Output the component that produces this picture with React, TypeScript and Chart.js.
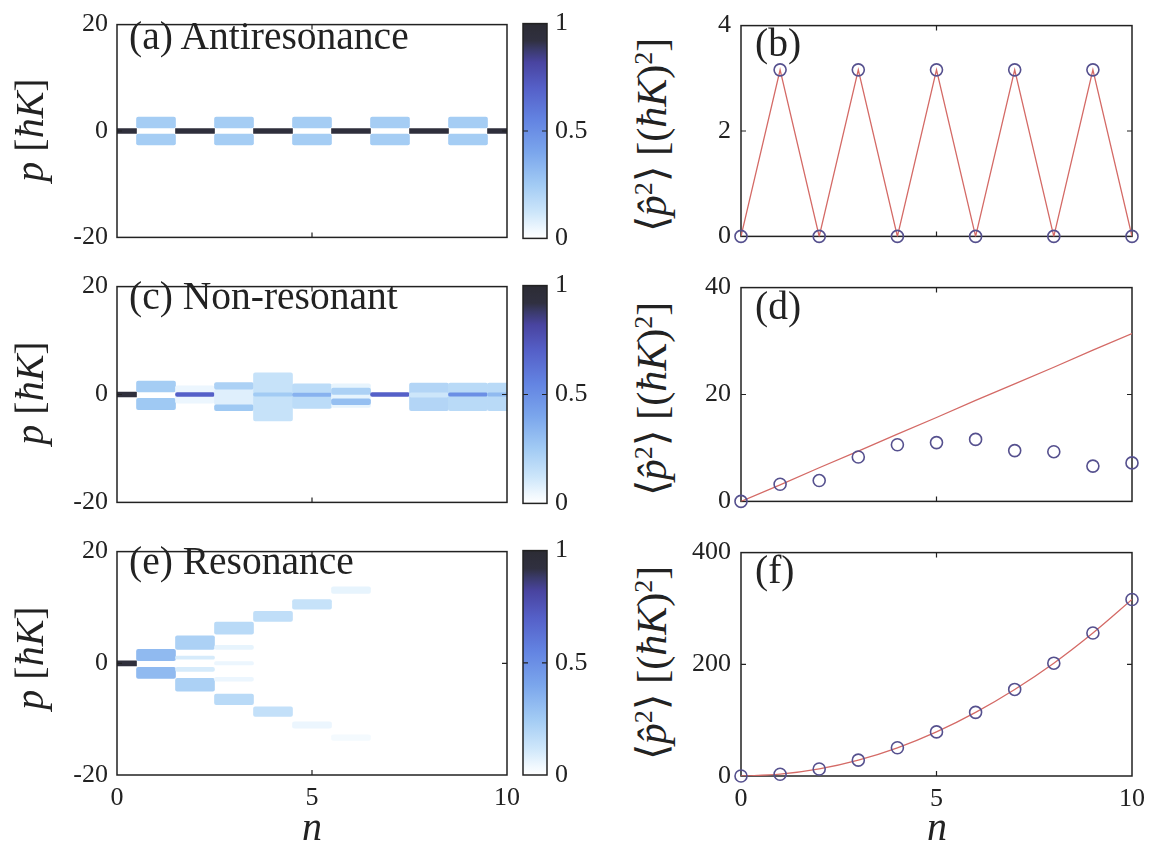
import React, { useEffect, useRef } from 'react';
import { Chart, registerables } from 'chart.js';
Chart.register(...registerables);

const FONT = "'Liberation Serif', 'Times New Roman', serif";
const INK = '#222222';
const RED = '#d46a66';
const MARKER = '#55508e';

// ---------------- data ----------------
const steps = [0, 1, 2, 3, 4, 5, 6, 7, 8, 9, 10];
const nTicks = [0, 5, 10];
const pRange = [-20, 20];
const colorbarRange = [0, 1];

// heat-map cells: [n, pLow, pHigh, probability]
type Cell = [number, number, number, number];
const cellsAntiresonance: Cell[] = [
  [0, -0.45, 0.45, 0.95],
  [1, 0.6, 2.6, 0.24], [1, -2.6, -0.6, 0.24],
  [2, -0.45, 0.45, 0.95],
  [3, 0.6, 2.6, 0.24], [3, -2.6, -0.6, 0.24],
  [4, -0.45, 0.45, 0.95],
  [5, 0.6, 2.6, 0.24], [5, -2.6, -0.6, 0.24],
  [6, -0.45, 0.45, 0.95],
  [7, 0.6, 2.6, 0.24], [7, -2.6, -0.6, 0.24],
  [8, -0.45, 0.45, 0.95],
  [9, 0.6, 2.6, 0.24], [9, -2.6, -0.6, 0.24],
  [10, -0.45, 0.45, 0.95],
];
const cellsNonResonant: Cell[] = [
  [0, -0.45, 0.45, 0.95],
  [1, 0.5, 2.5, 0.24], [1, -2.8, -0.7, 0.26],
  [2, -1.6, 1.6, 0.05], [2, -0.35, 0.35, 0.7],
  [3, -2.0, 1.0, 0.08], [3, 1.0, 2.2, 0.22], [3, -3.0, -1.9, 0.26],
  [4, -4.9, 4.0, 0.14], [4, -0.3, 0.3, 0.25],
  [5, -2.6, 2.0, 0.17], [5, -0.35, 0.25, 0.35],
  [6, -2.4, 2.0, 0.06], [6, 0.0, 1.2, 0.22], [6, -1.9, -0.8, 0.3],
  [7, -0.35, 0.35, 0.7],
  [8, -3.0, 2.1, 0.2], [8, -0.5, 0.3, 0.12],
  [9, -3.0, 2.1, 0.18], [9, -0.3, 0.3, 0.5],
  [10, -3.0, 2.1, 0.18], [10, -0.3, 0.3, 0.32],
];
const cellsResonance: Cell[] = [
  [0, -0.45, 0.45, 0.95],
  [1, 0.45, 2.5, 0.32], [1, -2.7, -0.7, 0.32],
  [2, 2.5, 4.9, 0.22], [2, 0.75, 1.3, 0.1], [2, -1.45, -0.7, 0.1], [2, -5.0, -2.7, 0.22],
  [3, 5.2, 7.4, 0.18], [3, 2.5, 3.2, 0.06], [3, -0.3, 0.3, 0.05], [3, -3.2, -2.5, 0.05], [3, -7.4, -5.5, 0.18],
  [4, 7.5, 9.3, 0.16], [4, -9.5, -7.8, 0.15],
  [5, 9.7, 11.4, 0.14], [5, -11.6, -10.5, 0.05],
  [6, 12.5, 13.7, 0.06], [6, -13.8, -12.8, 0.03],
];

// <p^2> series
const antiPoints = [0, 3.16, 0, 3.16, 0, 3.16, 0, 3.16, 0, 3.16, 0];
const antiLine = [0, 3.16, 0, 3.16, 0, 3.16, 0, 3.16, 0, 3.16, 0];
const nonResPoints = [0, 3.2, 3.9, 8.3, 10.6, 11.0, 11.6, 9.5, 9.3, 6.6, 7.2];
const nonResLine = [0, 3.1, 6.3, 9.4, 12.6, 15.7, 18.9, 22.0, 25.1, 28.3, 31.4];
const resPoints = [0, 3.2, 12.6, 28.4, 50.5, 79, 114, 155, 202, 256, 316];
const resLine = [0, 3.2, 12.6, 28.4, 50.5, 79, 114, 155, 202, 256, 316];
const antiTicks = [0, 2, 4];
const nonResTicks = [0, 20, 40];
const resTicks = [0, 200, 400];

// ---------------- colour map ----------------
const CMAP: [number, string][] = [
  [0, '#ffffff'],
  [0.04, '#f0f8fe'],
  [0.12, '#cde6fa'],
  [0.25, '#a2cbf4'],
  [0.4, '#7ba6ec'],
  [0.55, '#6384e2'],
  [0.7, '#5560c8'],
  [0.82, '#4944a0'],
  [0.88, '#3a3a6a'],
  [0.92, '#303040'],
  [1, '#2c2c34'],
];
function hexRgb(h: string) {
  const v = parseInt(h.slice(1), 16);
  return [(v >> 16) & 255, (v >> 8) & 255, v & 255];
}
function cmap(t: number) {
  const v = Math.max(0, Math.min(1, t));
  for (let i = 1; i < CMAP.length; i++) {
    if (v <= CMAP[i][0]) {
      const [t0, c0] = CMAP[i - 1];
      const [t1, c1] = CMAP[i];
      const f = (v - t0) / (t1 - t0);
      const a = hexRgb(c0), b = hexRgb(c1);
      return `rgb(${a.map((x, k) => Math.round(x + (b[k] - x) * f)).join(',')})`;
    }
  }
  return CMAP[CMAP.length - 1][1];
}

// ---------------- frame plugin ----------------
const framePlugin = {
  id: 'frame',
  beforeDatasetsDraw(chart: any, _a: any, opts: any) {
    if (opts.under) drawFrame(chart, opts);
  },
  afterDatasetsDraw(chart: any, _a: any, opts: any) {
    if (!opts.under) drawFrame(chart, opts);
  },
};
function drawFrame(chart: any, opts: any) {
  const { ctx, chartArea: a, scales } = chart;
  ctx.save();
  ctx.strokeStyle = INK;
  ctx.lineWidth = 1.5;
  ctx.strokeRect(a.left, a.top, a.right - a.left, a.bottom - a.top);
  const len = 5;
  ctx.lineWidth = 1.2;
  ctx.beginPath();
  (opts.xTicks || []).forEach((v: number) => {
    const x = scales.x.getPixelForValue(v);
    ctx.moveTo(x, a.bottom); ctx.lineTo(x, a.bottom - len);
    ctx.moveTo(x, a.top); ctx.lineTo(x, a.top + len);
  });
  (opts.yTicks || []).forEach((v: number) => {
    const y = scales.y.getPixelForValue(v);
    ctx.moveTo(a.left, y); ctx.lineTo(a.left + len, y);
    ctx.moveTo(a.right, y); ctx.lineTo(a.right - len, y);
  });
  ctx.stroke();
  ctx.restore();
}

const tickFont = { family: FONT, size: 26 };

function heatConfig(cells: Cell[], showX: boolean, padTop: number, padBottom: number, xHeight: number) {
  return {
    type: 'bar',
    data: {
      datasets: [{
        data: cells.map(c => ({ x: c[0], y: [c[1], c[2]] })),
        backgroundColor: cells.map(c => cmap(c[3])),
        borderWidth: 0,
        borderRadius: cells.map(c => (c[3] > 0.9 ? 0 : 2)),
        borderSkipped: false,
        categoryPercentage: 1,
        barPercentage: 1,
        grouped: false,
      }],
    },
    options: {
      animation: false,
      responsive: true,
      maintainAspectRatio: false,
      layout: { padding: { left: 0, right: 23, top: padTop, bottom: padBottom } },
      plugins: { legend: { display: false }, tooltip: { enabled: false }, frame: { xTicks: [5], yTicks: [0] } },
      scales: {
        x: {
          type: 'linear', min: steps[0], max: steps[steps.length - 1], offset: false,
          afterBuildTicks: (s: any) => { s.ticks = nTicks.map(v => ({ value: v })); },
          ticks: { display: showX, font: tickFont, color: INK, padding: 8, maxRotation: 0, autoSkip: false },
          grid: { display: false, drawTicks: false, offset: false }, border: { display: false },
          afterFit: (s: any) => { s.height = xHeight; },
        },
        y: {
          type: 'linear', min: pRange[0], max: pRange[1],
          ticks: { stepSize: 20, font: tickFont, color: INK, padding: 9 },
          grid: { display: false, drawTicks: false }, border: { display: false },
          afterFit: (s: any) => { s.width = 117; },
        },
      },
    },
    plugins: [framePlugin],
  };
}

function colorbarConfig(padTop: number, padBottom: number) {
  return {
    type: 'bar',
    data: {
      labels: [''],
      datasets: [{
        data: [colorbarRange],
        backgroundColor: (c: any) => {
          const chart = c.chart;
          if (!chart.chartArea) return 'transparent';
          const y = chart.scales.y;
          const g = chart.ctx.createLinearGradient(0, y.getPixelForValue(0), 0, y.getPixelForValue(1));
          CMAP.forEach(([t, col]) => g.addColorStop(t, col));
          return g;
        },
        borderWidth: 0,
        categoryPercentage: 1,
        barPercentage: 1,
      }],
    },
    options: {
      animation: false,
      responsive: true,
      maintainAspectRatio: false,
      layout: { padding: { left: 8, right: 0, top: padTop, bottom: padBottom } },
      plugins: { legend: { display: false }, tooltip: { enabled: false }, frame: { xTicks: [], yTicks: [0.5] } },
      scales: {
        x: { display: false },
        y: {
          position: 'right', min: colorbarRange[0], max: colorbarRange[1],
          ticks: { stepSize: 0.5, font: tickFont, color: INK, padding: 8, callback: (v: number) => String(v) },
          grid: { display: false, drawTicks: false }, border: { display: false },
          afterFit: (s: any) => { s.width = 58; },
        },
      },
    },
    plugins: [framePlugin],
  };
}

function lineConfig(points: number[], line: number[], yTicks: number[], smooth: boolean, showX: boolean, padTop: number, padBottom: number, xHeight: number) {
  return {
    type: 'line',
    data: {
      datasets: [
        {
          data: steps.map((n, i) => ({ x: n, y: points[i] })),
          showLine: false,
          pointStyle: 'circle',
          pointRadius: 6,
          pointBorderWidth: 1.6,
          pointBorderColor: MARKER,
          pointBackgroundColor: 'rgba(0,0,0,0)',
          clip: false,
          order: 0,
        },
        {
          data: steps.map((n, i) => ({ x: n, y: line[i] })),
          borderColor: RED,
          borderWidth: 1.3,
          pointRadius: 0,
          fill: false,
          tension: smooth ? 0.4 : 0,
          cubicInterpolationMode: smooth ? 'monotone' : 'default',
          order: 1,
        },
      ],
    },
    options: {
      animation: false,
      responsive: true,
      maintainAspectRatio: false,
      layout: { padding: { left: 0, right: 24, top: padTop, bottom: padBottom } },
      plugins: { legend: { display: false }, tooltip: { enabled: false }, frame: { xTicks: [5], yTicks: [yTicks[1]], under: true } },
      scales: {
        x: {
          type: 'linear', min: steps[0], max: steps[steps.length - 1],
          afterBuildTicks: (s: any) => { s.ticks = nTicks.map(v => ({ value: v })); },
          ticks: { display: showX, font: tickFont, color: INK, padding: 8, maxRotation: 0, autoSkip: false },
          grid: { display: false, drawTicks: false }, border: { display: false },
          afterFit: (s: any) => { s.height = xHeight; },
        },
        y: {
          type: 'linear', min: yTicks[0], max: yTicks[yTicks.length - 1],
          afterBuildTicks: (s: any) => { s.ticks = yTicks.map(v => ({ value: v })); },
          ticks: { font: tickFont, color: INK, padding: 10, autoSkip: false },
          grid: { display: false, drawTicks: false }, border: { display: false },
          afterFit: (s: any) => { s.width = 61; },
        },
      },
    },
    plugins: [framePlugin],
  };
}

function ChartBox({ left, top, width, height, make }: { left: number; top: number; width: number; height: number; make: () => any }) {
  const ref = useRef<HTMLCanvasElement | null>(null);
  useEffect(() => {
    if (!ref.current) return;
    const chart = new Chart(ref.current, make());
    return () => chart.destroy();
  }, []);
  return (
    <div style={{ position: 'absolute', left, top, width, height }}>
      <canvas ref={ref} />
    </div>
  );
}

const sup = (t: string) => <span style={{ fontSize: '0.62em', position: 'relative', top: '-0.55em' }}>{t}</span>;

function YTitleLeft({ cy }: { cy: number }) {
  return (
    <div style={{ position: 'absolute', left: 30, top: cy, transform: 'translate(-50%,-50%) rotate(-90deg)', whiteSpace: 'nowrap', fontSize: 40, lineHeight: 1 }}>
      <i>p</i> [<i>ħK</i>]
    </div>
  );
}
function YTitleRight({ cy }: { cy: number }) {
  return (
    <div style={{ position: 'absolute', left: 652, top: cy, transform: 'translate(-50%,-50%) rotate(-90deg)', whiteSpace: 'nowrap', fontSize: 42, lineHeight: 1 }}>
      ⟨<i>p̂</i>{sup('2')}⟩ [(<i>ħK</i>){sup('2')}]
    </div>
  );
}
function PanelLabel({ x, y, text }: { x: number; y: number; text: string }) {
  return <div style={{ position: 'absolute', left: x, top: y, fontSize: 39.5, lineHeight: 1, whiteSpace: 'nowrap' }}>{text}</div>;
}
function XTitle({ cx }: { cx: number }) {
  return <div style={{ position: 'absolute', left: cx, top: 827, transform: 'translate(-50%,-50%)', fontSize: 40, lineHeight: 1, fontStyle: 'italic' }}>n</div>;
}

export default function App() {
  return (
    <div style={{ position: 'absolute', left: 0, top: 0, width: 1156, height: 847, background: '#fff', fontFamily: FONT, color: INK, overflow: 'hidden' }}>
      {/* heat maps */}
      <ChartBox left={0} top={0} width={530} height={262} make={() => heatConfig(cellsAntiresonance, false, 14, 0, 16)} />
      <ChartBox left={0} top={262} width={530} height={265} make={() => heatConfig(cellsNonResonant, false, 15, 0, 17)} />
      <ChartBox left={0} top={527} width={530} height={320} make={() => heatConfig(cellsResonance, true, 15, 0, 72)} />
      {/* colour bars */}
      <ChartBox left={515} top={0} width={90} height={262} make={() => colorbarConfig(14, 16)} />
      <ChartBox left={515} top={262} width={90} height={265} make={() => colorbarConfig(15, 17)} />
      <ChartBox left={515} top={527} width={90} height={320} make={() => colorbarConfig(15, 72)} />
      {/* <p^2> panels */}
      <ChartBox left={680} top={0} width={476} height={262} make={() => lineConfig(antiPoints, antiLine, antiTicks, false, false, 15, 0, 14)} />
      <ChartBox left={680} top={262} width={476} height={265} make={() => lineConfig(nonResPoints, nonResLine, nonResTicks, false, false, 17, 0, 15)} />
      <ChartBox left={680} top={527} width={476} height={320} make={() => lineConfig(resPoints, resLine, resTicks, true, true, 16, 0, 71)} />

      <YTitleLeft cy={130} />
      <YTitleLeft cy={393} />
      <YTitleLeft cy={658} />
      <YTitleRight cy={135} />
      <YTitleRight cy={399} />
      <YTitleRight cy={663} />
      <PanelLabel x={129} y={17} text="(a) Antiresonance" />
      <PanelLabel x={129} y={277} text="(c) Non-resonant" />
      <PanelLabel x={129} y={542} text="(e) Resonance" />
      <PanelLabel x={755} y={24} text="(b)" />
      <PanelLabel x={755} y={287} text="(d)" />
      <PanelLabel x={755} y={551} text="(f)" />
      <XTitle cx={312} />
      <XTitle cx={937} />
    </div>
  );
}
